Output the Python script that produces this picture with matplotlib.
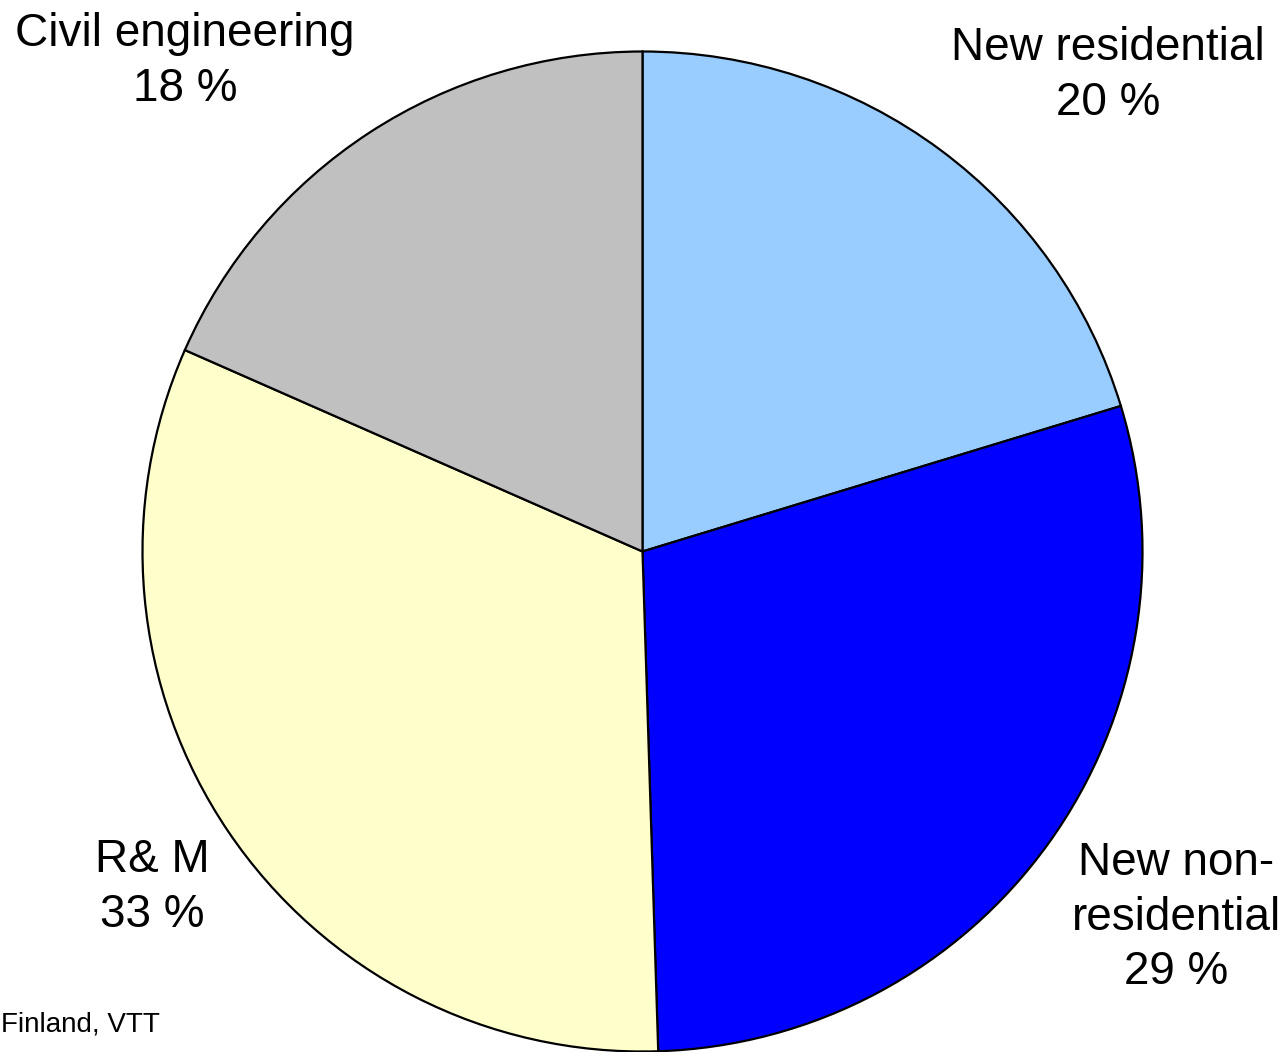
import matplotlib
matplotlib.use("Agg")
import matplotlib.pyplot as plt

# Shares of construction output (Finland)
sectors = ["New residential", "New non-\nresidential", "R& M", "Civil engineering"]
shares = [20.3, 29.2, 32.1, 18.4]
pct_labels = ["20 %", "29 %", "33 %", "18 %"]
colors = ["#99CCFF", "#0000FF", "#FFFFCC", "#C0C0C0"]

# label centres in pie-radius units
label_pos = [(0.931, 0.952), (1.068, -0.732), (-0.980, -0.672), (-0.915, 0.98)]

plt.rcParams["font.family"] = ["Liberation Sans", "DejaVu Sans"]

fig = plt.figure(figsize=(12.85, 10.52), dpi=100)
ax = fig.add_axes([0, 0, 1, 1])

ax.pie(shares, colors=colors, startangle=90, counterclock=False, radius=1.0,
       wedgeprops=dict(edgecolor="black", linewidth=1.6))

for name, pct, (x, y) in zip(sectors, pct_labels, label_pos):
    ax.text(x, y, name + "\n" + pct, ha="center", va="center",
            fontsize=33, linespacing=1.3)

ax.set_xlim(-1.285, 1.285)
ax.set_ylim(-1.001, 1.103)
ax.set_aspect("equal")
ax.axis("off")

fig.text(0.001, 0.026, "Finland, VTT", ha="left", va="center", fontsize=20)

fig.savefig("out.png", dpi=100, facecolor="white")
